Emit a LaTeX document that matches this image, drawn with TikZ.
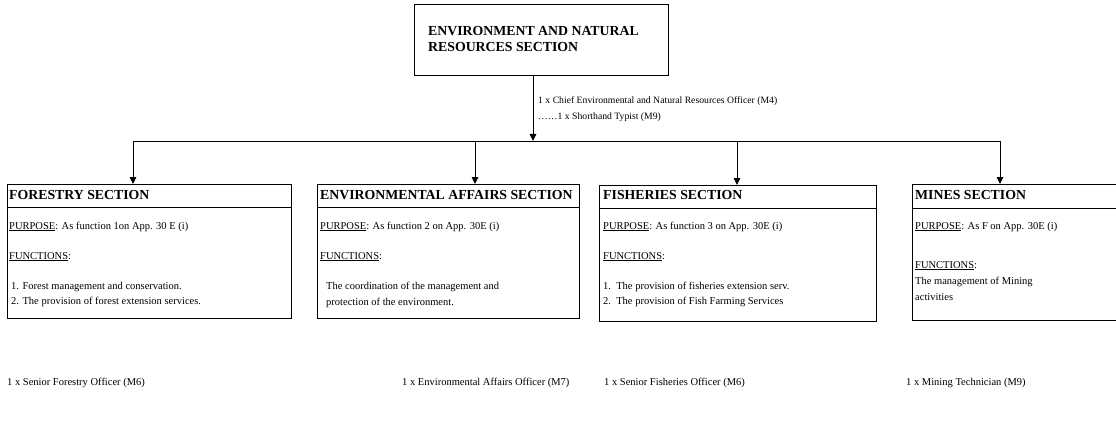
\documentclass[tikz,border=0pt]{standalone}
\usepackage{fontspec}
\setmainfont{Liberation Serif}
\usetikzlibrary{arrows.meta}
\begin{document}
\begin{tikzpicture}[x=1pt,y=-1pt,
  box/.style={draw, line width=0.9pt, inner sep=0pt, outer sep=0pt},
  txt/.style={anchor=base west, inner sep=0pt, font=\fontsize{10.5}{12}\selectfont},
  small/.style={txt, font=\fontsize{9.7}{12}\selectfont},
  head/.style={anchor=base west, inner sep=0pt, font=\fontsize{13.8}{15}\selectfont\bfseries},
  link/.style={line width=0.9pt},
  arr/.style={line width=0.9pt, -{Triangle[length=7pt,width=6.5pt]}}]
\useasboundingbox (0,0) rectangle (1116,425);

% head office
\node[box, minimum width=254pt, minimum height=71pt] (top) at (541,40) {};
\node[head] (topa) at (428,36) {ENVIRONMENT AND NATURAL};
\node[head] (topb) at (428,52) {RESOURCES SECTION};
\node[small] (chief) at (538,104) {1 x Chief Environmental and Natural Resources Officer (M4)};
\node[small] (typist) at (538,120) {……1 x Shorthand Typist (M9)};

% section boxes
\node[box, minimum width=284pt, minimum height=134pt] (forestry) at (149,251) {};
\node[box, minimum width=262pt, minimum height=134pt] (envaff) at (448,251) {};
\node[box, minimum width=277pt, minimum height=136pt] (fish) at (737.5,253) {};
\node[box, minimum width=208pt, minimum height=136pt] (mines) at (1016,252) {};

% header rules
\draw[link] (forestry.west |- 0,207) -- (forestry.east |- 0,207);
\draw[link] (envaff.west |- 0,207) -- (envaff.east |- 0,207);
\draw[link] (fish.west |- 0,208) -- (fish.east |- 0,208);
\draw[link] (mines.west |- 0,208) -- (mines.east |- 0,208);

% connectors
\coordinate (busm) at (533,141);
\coordinate (busl) at (133,141);
\coordinate (busr) at (1000,141);
\draw[arr] (top.south -| busm) -- (busm);
\draw[link] (busl) -- (busr);
\draw[arr] (busl) -- (busl |- forestry.north);
\draw[arr] (475,141) -- (475,0 |- envaff.north);
\draw[arr] (737,141) -- (737,0 |- fish.north);
\draw[arr] (busr) -- (busr |- mines.north);

% forestry
\node[head] (fh) at (9,199.5) {FORESTRY SECTION};
\node[txt] (fp) at (9,229) {\underline{PURPOSE}: As function 1on App. 30 E (i)};
\node[txt] (ff) at (9,259) {\underline{FUNCTIONS}:};
\node[txt] (f1) at (11,289) {1. Forest management and conservation.};
\node[txt] (f2) at (11,304) {2. The provision of forest extension services.};

% environmental affairs
\node[head] (eh) at (320,199.5) {ENVIRONMENTAL AFFAIRS SECTION};
\node[txt] (ep) at (320,229) {\underline{PURPOSE}: As function 2 on App. 30E (i)};
\node[txt] (ef) at (320,259) {\underline{FUNCTIONS}:};
\node[txt] (e1) at (326,289) {The coordination of the management and};
\node[txt] (e2) at (326,305) {protection of the environment.};

% fisheries
\node[head] (sh) at (603,199.5) {FISHERIES SECTION};
\node[txt] (sp) at (603,229) {\underline{PURPOSE}: As function 3 on App. 30E (i)};
\node[txt] (sf) at (603,259) {\underline{FUNCTIONS}:};
\node[txt] (s1) at (603,289) {1.\ \ The provision of fisheries extension serv.};
\node[txt] (s2) at (603,304) {2.\ \ The provision of Fish Farming Services};

% mines
\node[head] (mh) at (915,199.5) {MINES SECTION};
\node[txt] (mp) at (915,229) {\underline{PURPOSE}: As F on App. 30E (i)};
\node[txt] (mf) at (915,268) {\underline{FUNCTIONS}:};
\node[txt] (m1) at (915,284) {The management of Mining};
\node[txt] (m2) at (915,300) {activities};

% staffing
\node[txt] (fo) at (7,385) {1 x Senior Forestry Officer (M6)};
\node[txt] (eo) at (402,385) {1 x Environmental Affairs Officer (M7)};
\node[txt] (so) at (604,385) {1 x Senior Fisheries Officer (M6)};
\node[txt] (mo) at (906,385) {1 x Mining Technician (M9)};
\end{tikzpicture}
\end{document}
